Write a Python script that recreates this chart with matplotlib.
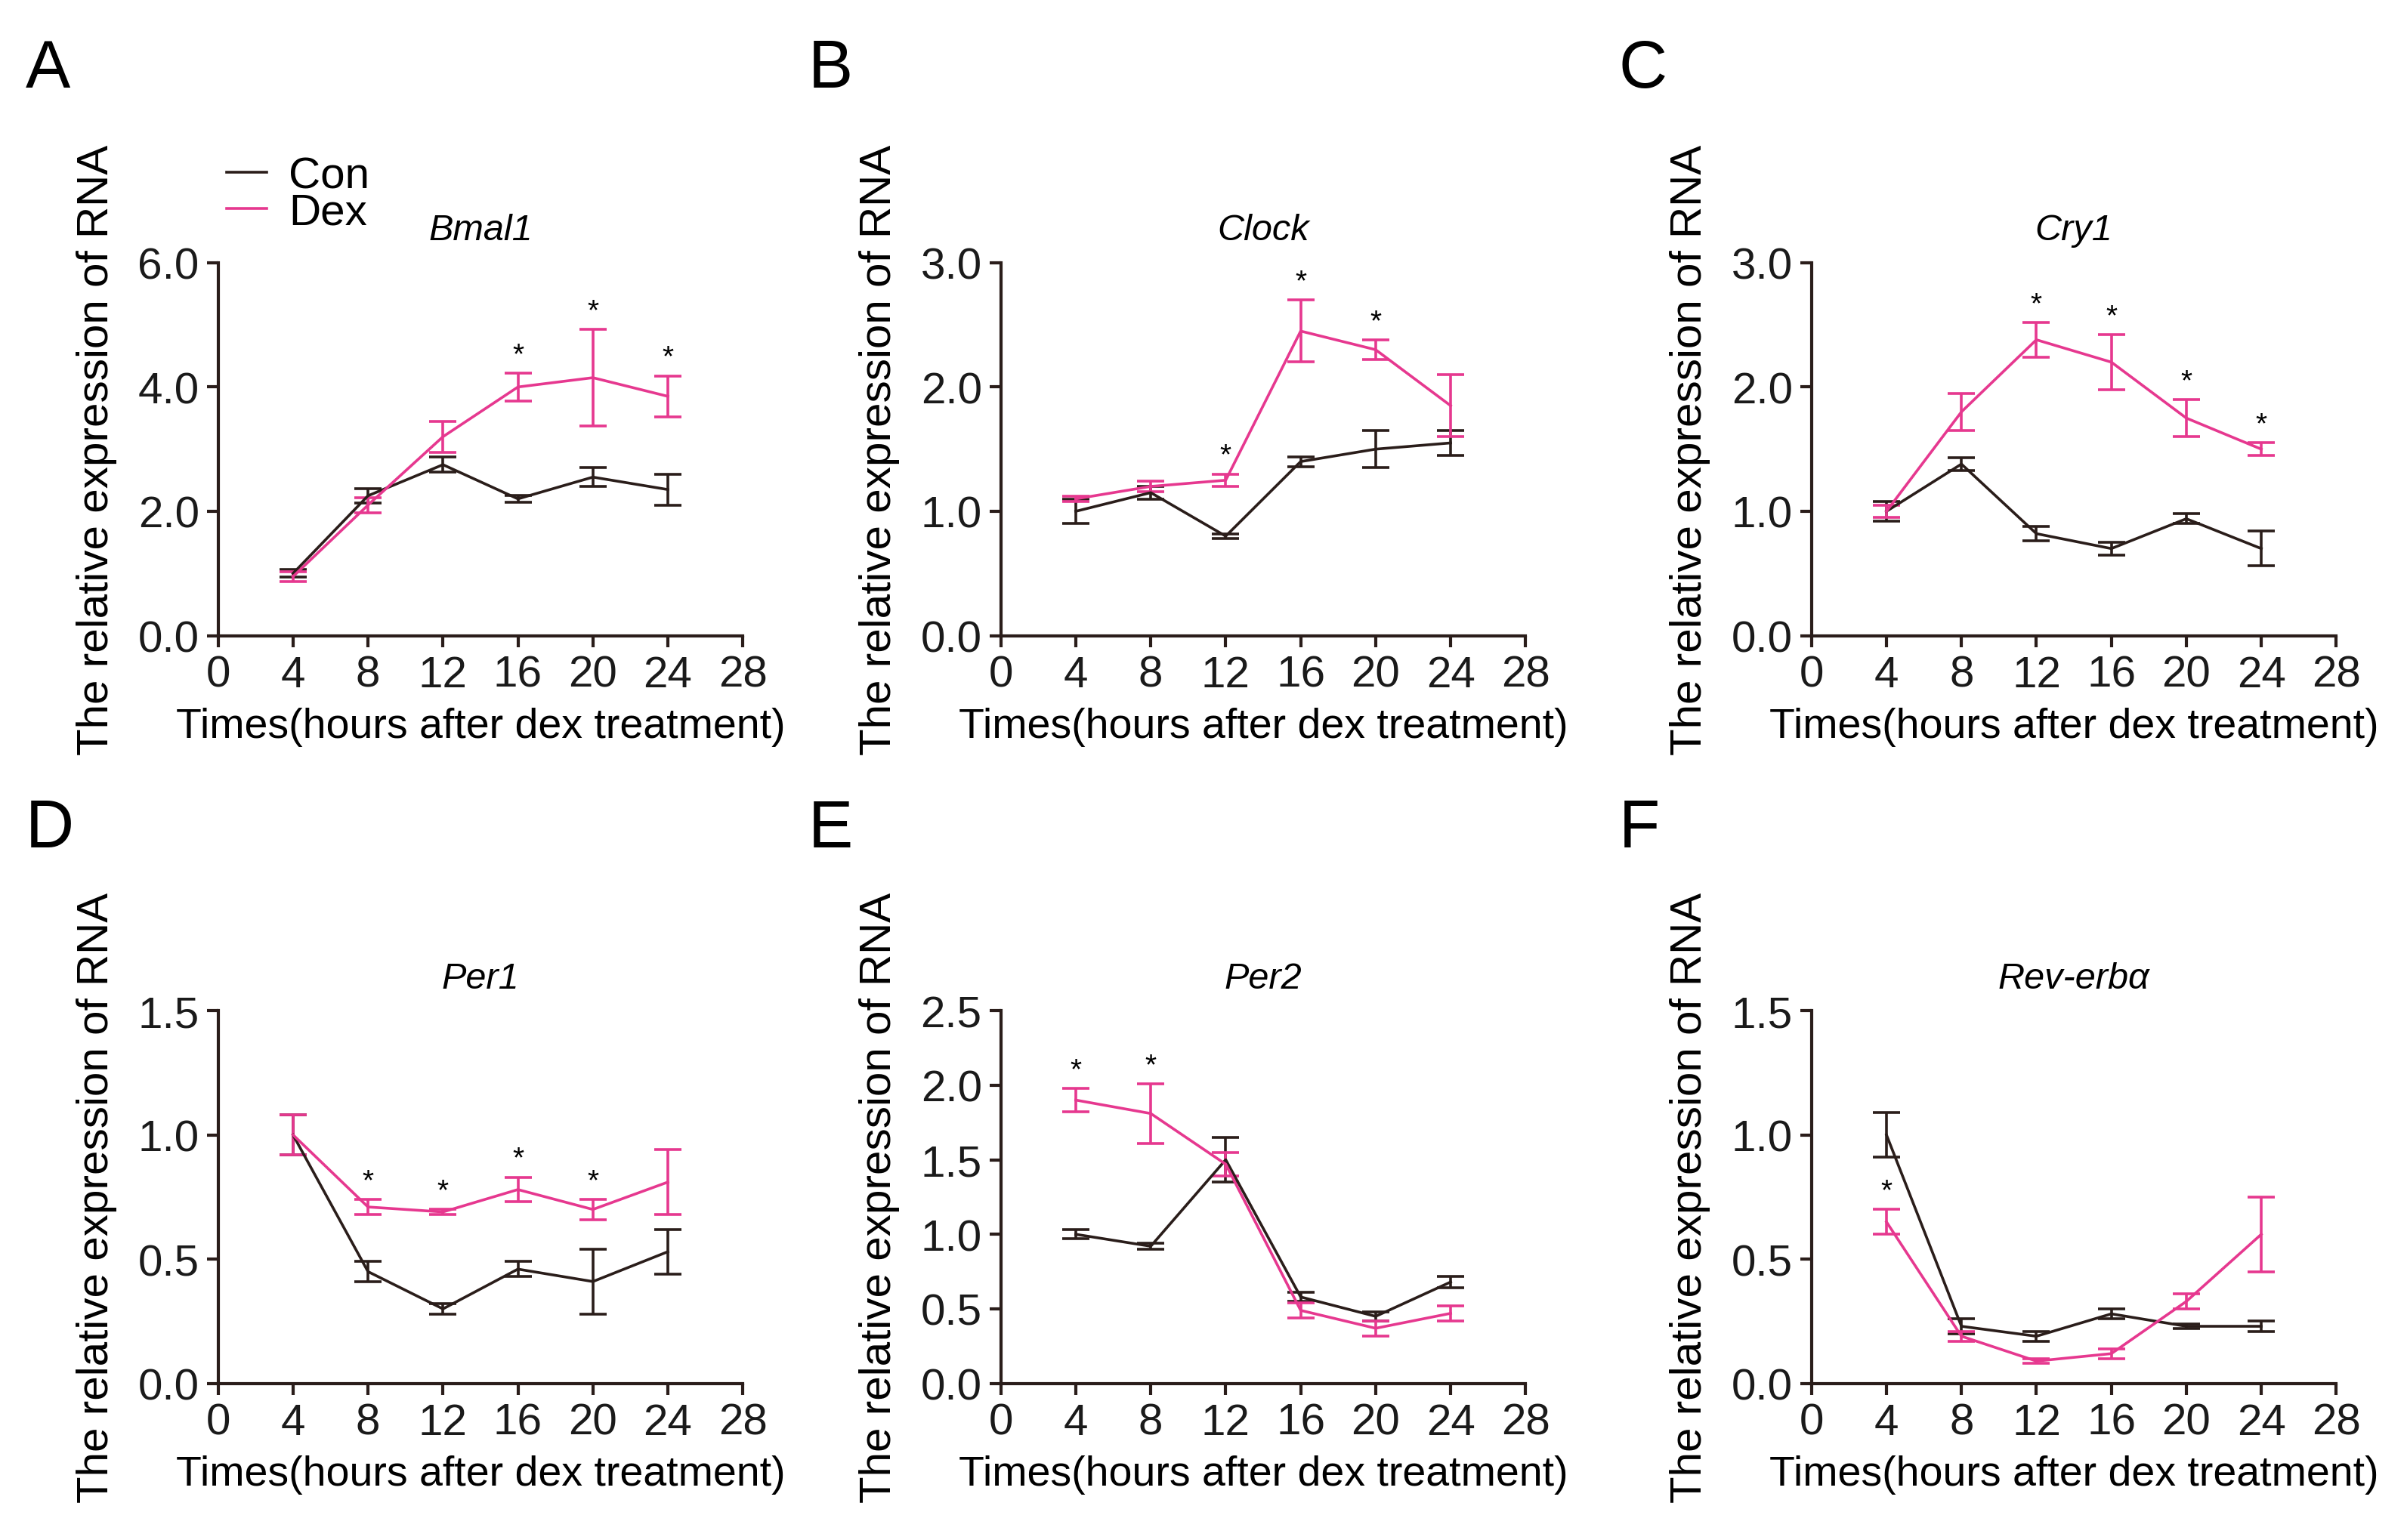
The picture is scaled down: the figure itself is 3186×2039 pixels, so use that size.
import matplotlib
matplotlib.use("Agg")
import matplotlib.pyplot as plt
from matplotlib.lines import Line2D
import numpy as np

plt.rcParams['font.family'] = ['Liberation Sans', 'DejaVu Sans']

times = [4, 8, 12, 16, 20, 24]
genes = ['Bmal1', 'Clock', 'Cry1', 'Per1', 'Per2', 'Rev-erbα']
letters = ['A', 'B', 'C', 'D', 'E', 'F']

con_mean = {
    'Bmal1': [1.0, 2.25, 2.75, 2.2, 2.55, 2.35],
    'Clock': [1.0, 1.15, 0.8, 1.4, 1.5, 1.55],
    'Cry1': [1.0, 1.38, 0.82, 0.7, 0.94, 0.7],
    'Per1': [1.0, 0.45, 0.3, 0.46, 0.41, 0.53],
    'Per2': [1.0, 0.92, 1.5, 0.58, 0.45, 0.68],
    'Rev-erbα': [1.0, 0.23, 0.19, 0.28, 0.23, 0.23],
}
con_err = {
    'Bmal1': [0.06, 0.12, 0.12, 0.05, 0.15, 0.25],
    'Clock': [0.1, 0.05, 0.02, 0.04, 0.15, 0.1],
    'Cry1': [0.08, 0.05, 0.06, 0.05, 0.04, 0.14],
    'Per1': [0.08, 0.04, 0.02, 0.03, 0.13, 0.09],
    'Per2': [0.03, 0.02, 0.15, 0.03, 0.03, 0.04],
    'Rev-erbα': [0.09, 0.03, 0.02, 0.02, 0.01, 0.02],
}
dex_mean = {
    'Bmal1': [0.95, 2.1, 3.2, 4.0, 4.15, 3.85],
    'Clock': [1.1, 1.2, 1.25, 2.45, 2.3, 1.85],
    'Cry1': [1.0, 1.8, 2.38, 2.2, 1.75, 1.5],
    'Per1': [1.0, 0.71, 0.69, 0.78, 0.7, 0.81],
    'Per2': [1.9, 1.81, 1.47, 0.49, 0.37, 0.47],
    'Rev-erbα': [0.65, 0.19, 0.09, 0.12, 0.33, 0.6],
}
dex_err = {
    'Bmal1': [0.08, 0.12, 0.25, 0.22, 0.78, 0.33],
    'Clock': [0.02, 0.04, 0.05, 0.25, 0.08, 0.25],
    'Cry1': [0.05, 0.15, 0.14, 0.22, 0.15, 0.05],
    'Per1': [0.08, 0.03, 0.01, 0.05, 0.04, 0.13],
    'Per2': [0.08, 0.2, 0.08, 0.05, 0.05, 0.05],
    'Rev-erbα': [0.05, 0.02, 0.01, 0.02, 0.03, 0.15],
}
# time points marked with * (significant)
stars = {
    'Bmal1': [16, 20, 24],
    'Clock': [12, 16, 20],
    'Cry1': [12, 16, 20, 24],
    'Per1': [8, 12, 16, 20],
    'Per2': [4, 8],
    'Rev-erbα': [4],
}
y_max = {'Bmal1': 6.0, 'Clock': 3.0, 'Cry1': 3.0, 'Per1': 1.5, 'Per2': 2.5, 'Rev-erbα': 1.5}
y_step = {'Bmal1': 2.0, 'Clock': 1.0, 'Cry1': 1.0, 'Per1': 0.5, 'Per2': 0.5, 'Rev-erbα': 0.5}

con_col = '#2a1d1a'
dex_col = '#e6388f'
ax_col = '#2a1d1a'

fig = plt.figure(figsize=(31.86, 20.4), dpi=100)

lefts = [0.0906, 0.4158, 0.7526]
width = 0.218
bottoms = [0.587, 0.1016]
height = 0.242
letter_y = [0.975, 0.482]

for i, g in enumerate(genes):
    r, c = divmod(i, 3)
    ax = fig.add_axes([lefts[c], bottoms[r], width, height])
    ax.errorbar(times, con_mean[g], yerr=con_err[g], color=con_col, lw=2.6,
                capsize=13, capthick=2.6, elinewidth=2.6)
    ax.errorbar(times, dex_mean[g], yerr=dex_err[g], color=dex_col, lw=2.6,
                capsize=13, capthick=2.6, elinewidth=2.6)
    ymax = y_max[g]
    for t in stars[g]:
        k = times.index(t)
        top = max(con_mean[g][k] + con_err[g][k], dex_mean[g][k] + dex_err[g][k])
        if g == 'Rev-erbα':
            top = dex_mean[g][k] + dex_err[g][k]
        ax.text(t, top + ymax * 0.012, '*', ha='center', va='bottom', fontsize=28, color='black')
    ax.set_xlim(0, 28)
    ax.set_ylim(0, ymax)
    ax.set_xticks(range(0, 29, 4))
    yt = np.arange(0, ymax + 1e-9, y_step[g])
    ax.set_yticks(yt)
    ax.set_yticklabels(['%.1f' % v for v in yt])
    for s in ['top', 'right']:
        ax.spines[s].set_visible(False)
    for s in ['left', 'bottom']:
        ax.spines[s].set_color(ax_col)
        ax.spines[s].set_linewidth(3)
    ax.tick_params(direction='out', length=11, width=3, color=ax_col,
                   labelsize=42, labelcolor='#1a1a1a', pad=7)
    ax.set_xlabel('Times(hours after dex treatment)', fontsize=40, labelpad=11)
    ax.set_ylabel('The relative expression of RNA', fontsize=42, labelpad=20)
    ax.set_title(g, fontsize=35, style='italic', pad=22)
    if i == 0:
        handles = [Line2D([], [], color=con_col, lw=2.6),
                   Line2D([], [], color=dex_col, lw=2.6)]
        ax.legend(handles, ['Con', 'Dex'], loc='lower left', bbox_to_anchor=(-0.025, 1.02),
                  frameon=False, fontsize=42, handlelength=0.9, handletextpad=0.5,
                  labelspacing=-0.1, borderpad=0)
    fig.text(lefts[c] - 0.08, letter_y[r], letters[i], fontsize=64, ha='left', va='top')

fig.savefig('out.png', dpi=100, facecolor='white')
